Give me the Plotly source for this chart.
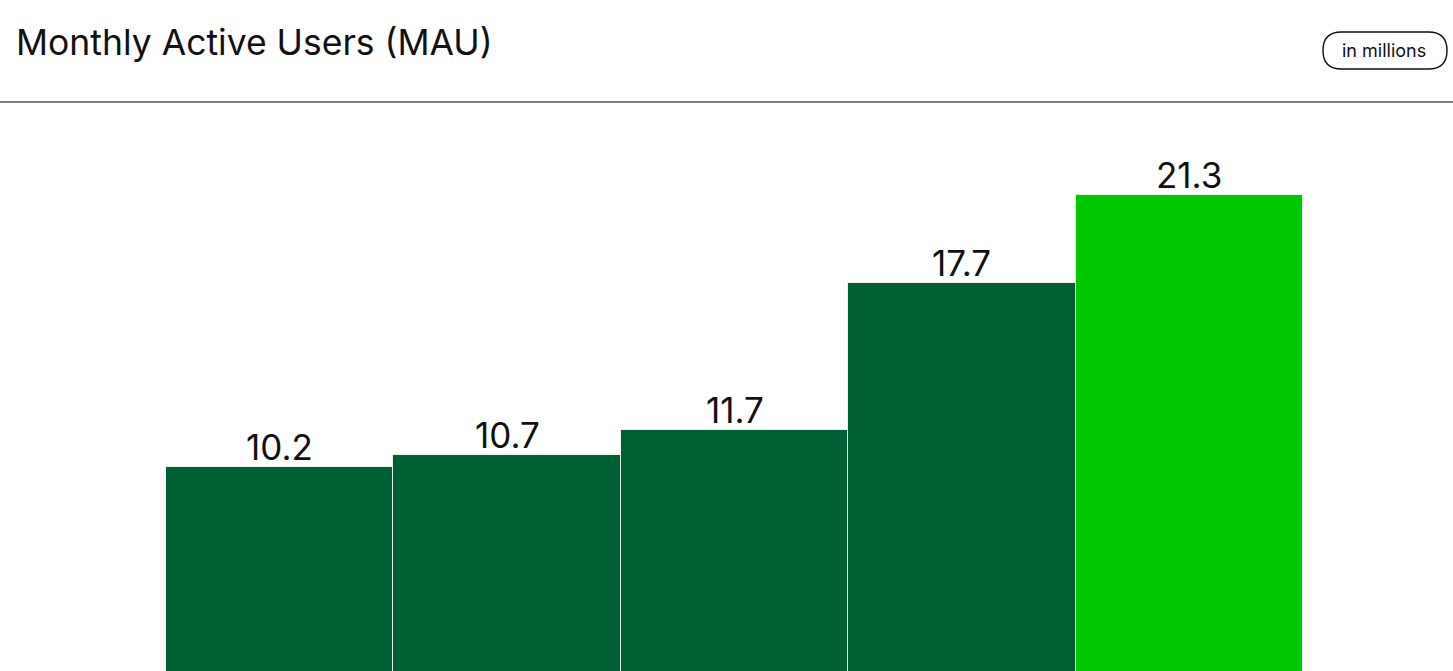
import plotly.graph_objects as go

categories = ["P1", "P2", "P3", "P4", "P5"]
mau_millions = [10.2, 10.7, 11.7, 17.7, 21.3]
bar_colors = ["#005f33", "#005f33", "#005f33", "#005f33", "#00c800"]
value_labels = [f"{v:.1f}" for v in mau_millions]

W, H = 1453, 671
plot_left, plot_right = 166, 1303
plot_top, plot_bottom = 110, 671
baseline_px = 717.0
px_per_unit = 24.505

y_min = (baseline_px - plot_bottom) / px_per_unit
y_max = (baseline_px - plot_top) / px_per_unit

FONT = "Inter, Roboto, sans-serif"

fig = go.Figure()
fig.add_trace(go.Bar(
    x=categories,
    y=mau_millions,
    base=0,
    marker=dict(color=bar_colors, line=dict(color="#e8f2ea", width=1)),
    hoverinfo="skip",
))

def px_x(p):
    return (p - plot_left) / (plot_right - plot_left)

def px_y(p):
    return 1 - (p - plot_top) / (plot_bottom - plot_top)

annotations = [
    dict(x=c, y=v, xref="x", yref="y", text=t, showarrow=False,
         xanchor="center", yanchor="bottom", yshift=-3,
         font=dict(family=FONT, size=35, color="#111111"))
    for c, v, t in zip(categories, mau_millions, value_labels)
]
annotations += [
    dict(text="Monthly Active Users (MAU)", xref="paper", yref="paper",
         x=px_x(14), y=px_y(42),
         xanchor="left", yanchor="middle", showarrow=False,
         font=dict(family=FONT, size=35.5, color="#111111")),
    dict(text="in millions", xref="paper", yref="paper",
         x=px_x(1384), y=px_y(50),
         xanchor="center", yanchor="middle", showarrow=False,
         font=dict(family=FONT, size=18, color="#111111")),
]

fig.update_layout(
    width=W, height=H,
    margin=dict(l=plot_left, r=W - plot_right, t=plot_top, b=0, pad=0),
    paper_bgcolor="white", plot_bgcolor="white",
    bargap=0,
    showlegend=False,
    xaxis=dict(range=[-0.5, 4.5], showticklabels=False, showgrid=False,
               zeroline=False, showline=False, fixedrange=True),
    yaxis=dict(range=[y_min, y_max], showticklabels=False, showgrid=False,
               zeroline=False, showline=False, fixedrange=True),
    font=dict(family=FONT),
    annotations=annotations,
)

# divider line
fig.add_shape(type="line", xref="paper", yref="paper",
              x0=px_x(0), x1=px_x(W), y0=px_y(102), y1=px_y(102),
              line=dict(color="#555555", width=1.5))

# pill outline
x0, x1, y0, y1 = 1323, 1447, 32, 69
r = (y1 - y0) / 2
path = (f"M {px_x(x0 + r)} {px_y(y0)} L {px_x(x1 - r)} {px_y(y0)} "
        f"Q {px_x(x1)} {px_y(y0)} {px_x(x1)} {px_y(y0 + r)} "
        f"Q {px_x(x1)} {px_y(y1)} {px_x(x1 - r)} {px_y(y1)} "
        f"L {px_x(x0 + r)} {px_y(y1)} "
        f"Q {px_x(x0)} {px_y(y1)} {px_x(x0)} {px_y(y0 + r)} "
        f"Q {px_x(x0)} {px_y(y0)} {px_x(x0 + r)} {px_y(y0)} Z")
fig.add_shape(type="path", xref="paper", yref="paper", path=path,
              line=dict(color="#111111", width=1.4))

fig.write_html("out.html", config={"displayModeBar": False},
               post_script="document.body.style.margin='0';document.body.style.overflow='hidden';")
